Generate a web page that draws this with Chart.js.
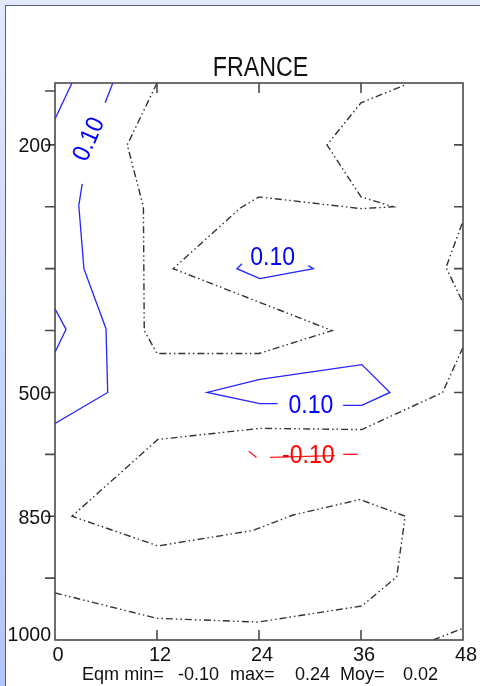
<!DOCTYPE html>
<html>
<head>
<meta charset="utf-8">
<script src="https://cdn.jsdelivr.net/npm/chart.js@4"></script>
<style>
  html, body { margin: 0; padding: 0; }
  body { width: 480px; height: 686px; overflow: hidden; position: relative;
         background: linear-gradient(to bottom, #e3e9f9, #b2c4f6); }
  .panel { position: absolute; left: 5px; top: 5px; right: 0; bottom: 0; background: #fff;
           border-left: 1px solid #5b6070; border-top: 1px solid #5b6070; }
  canvas { position: absolute; left: 0; top: 0; }
</style>
</head>
<body>
<div class="panel"></div>
<canvas id="chart" width="480" height="686"></canvas>
<script>
// axes: forecast hour on x, pressure level index on y (0 = 1000 hPa)
const xTicks = [0, 12, 24, 36, 48];
const yTickPos = [0, 1, 2, 3, 4, 5, 6, 7, 8, 8.87];
const yTickLabels = ['1000', '', '850', '', '500', '', '', '', '200', ''];

// zero contour (dash-dot)
const zeroA = [[12, 9], [8.5, 8], [10.4, 7], [10.5, 5], [12, 4.63], [24, 4.63], [32.6, 5], [13.9, 6],
  [21.8, 6.98], [24, 7.16], [36, 6.97], [39.8, 7], [36, 7.16], [32, 8], [36, 8.68], [41.4, 8.98]];
const zeroB = [[47.9, 6.73], [46, 6.02], [48, 5.45]];
const zeroC = [[0, 0.76], [12, 0.35], [23.9, 0.29], [36.1, 0.55], [40.2, 1.02], [41.2, 2], [35.9, 2.27],
  [28, 2.02], [23.3, 1.77], [12.1, 1.52], [2, 2], [12.1, 3.24], [24.1, 3.42], [36.1, 3.4], [45.6, 4], [48, 4.73]];
const zeroD = [[44.5, 0], [48, 0.19]];

// +0.10 contours (solid blue)
const posA = [[0, 8.42], [2, 9]];
const posB1 = [[6.8, 9], [5.9, 8.68]];
const posB2 = [[3.2, 7.37], [2.8, 7.02], [3.4, 6], [6, 5.03], [6.2, 4], [0, 3.5]];
const posC = [[0, 5.35], [1.3, 5.02], [0, 4.65]];
const posD = [[22, 6.08], [21.4, 6], [24.1, 5.84], [30.4, 6], [29.8, 6.05]];
const posE = [[33.9, 3.79], [36.1, 3.79], [39.4, 4], [36.1, 4.45], [24.1, 4.21], [17.9, 4], [24.1, 3.82], [26.2, 3.82]];

// -0.10 contour (dashed red)
const negA = [[22.8, 3.05], [23.7, 2.95]];
const negB = [[25.3, 2.95], [32.9, 2.98]];
const negC = [[33.9, 3.0], [35.6, 3.0]];

// contour labels: text, x, y, angle
const labelTexts = ['0.10', '0.10', '0.10', '-0.10'];
const labelX = [3.8, 25.6, 30.1, 29.8];
const labelY = [8.1, 6.2, 3.81, 3.0];
const labelAngle = [-66, 0, 0, 0];
const labelColor = ['#0000ff', '#0000ff', '#0000ff', '#ff0000'];

const statsText = ['Eqm min=', '-0.10', 'max=', '0.24', 'Moy=', '0.02'];
const statsLeft = [82, 178, 230, 295, 340, 403];

const pts = arr => arr.map(p => ({x: p[0], y: p[1]}));

function line(arr, kind) {
  const ds = {data: pts(arr), showLine: true, pointRadius: 0, fill: false, tension: 0};
  if (kind === 'zero') Object.assign(ds, {borderColor: '#333333', borderWidth: 1.4, borderDash: [7, 3, 1.5, 3, 1.5, 3]});
  if (kind === 'pos') Object.assign(ds, {borderColor: '#2424ff', borderWidth: 1.3});
  if (kind === 'neg') Object.assign(ds, {borderColor: '#ff1a1a', borderWidth: 1.3});
  return ds;
}

function text(ctx, s, px, py, size, align, color, sx, angle) {
  ctx.save();
  ctx.translate(px, py);
  if (angle) ctx.rotate(angle * Math.PI / 180);
  ctx.scale(sx, 1);
  ctx.font = size + 'px "Liberation Sans", Arial, sans-serif';
  ctx.fillStyle = color;
  ctx.textAlign = align;
  ctx.textBaseline = 'alphabetic';
  ctx.fillText(s, 0, 0);
  ctx.restore();
}

const frame = {
  id: 'frame',
  afterDraw(chart) {
    const {ctx, chartArea: a, scales: {x, y}} = chart;
    ctx.save();
    ctx.strokeStyle = '#4a4a4a';
    ctx.lineWidth = 1.6;
    ctx.strokeRect(a.left, a.top, a.right - a.left, a.bottom - a.top);
    ctx.beginPath();
    xTicks.slice(1, -1).forEach(v => {
      const px = x.getPixelForValue(v);
      ctx.moveTo(px, a.bottom); ctx.lineTo(px, a.bottom - 10);
      ctx.moveTo(px, a.top); ctx.lineTo(px, a.top + 10);
    });
    yTickPos.forEach((v, i) => {
      if (v === 0) return;
      const py = y.getPixelForValue(v);
      ctx.moveTo(a.left - 10, py); ctx.lineTo(a.left, py);
      if (i < yTickPos.length - 1) { ctx.moveTo(a.right, py); ctx.lineTo(a.right - 9, py); }
    });
    ctx.stroke();

    // tick labels
    yTickPos.forEach((v, i) => {
      if (!yTickLabels[i]) return;
      const cy = Math.min(y.getPixelForValue(v), a.bottom - 7);
      text(ctx, yTickLabels[i], a.left - 4, cy + 7.5, 21, 'right', '#111', 0.93);
    });
    xTicks.forEach(v => {
      text(ctx, String(v), x.getPixelForValue(v) + 3, 661, 21, 'center', '#111', 0.95);
    });

    // title and stats line
    text(ctx, 'FRANCE', 260.5, 76, 27, 'center', '#111', 0.86);
    statsText.forEach((s, i) => text(ctx, s, statsLeft[i], 680, 19, 'left', '#111', 0.95));

    // contour labels
    labelTexts.forEach((s, i) => {
      const px = x.getPixelForValue(labelX[i]);
      const py = y.getPixelForValue(labelY[i]);
      ctx.save();
      ctx.translate(px, py);
      ctx.rotate(labelAngle[i] * Math.PI / 180);
      text(ctx, s, 0, 9, 25, 'center', labelColor[i], 0.92);
      ctx.restore();
    });
    ctx.restore();
  }
};

new Chart(document.getElementById('chart'), {
  type: 'scatter',
  data: {
    datasets: [
      line(zeroA, 'zero'), line(zeroB, 'zero'), line(zeroC, 'zero'), line(zeroD, 'zero'),
      line(posA, 'pos'), line(posB1, 'pos'), line(posB2, 'pos'), line(posC, 'pos'),
      line(posD, 'pos'), line(posE, 'pos'),
      line(negA, 'neg'), line(negB, 'neg'), line(negC, 'neg')
    ]
  },
  options: {
    responsive: false,
    animation: false,
    layout: {padding: {left: 55, top: 83, right: 17, bottom: 46}},
    plugins: {legend: {display: false}, tooltip: {enabled: false}, title: {display: false}},
    scales: {
      x: {type: 'linear', min: 0, max: 48, display: false},
      y: {type: 'linear', min: 0, max: 9, display: false}
    }
  },
  plugins: [frame]
});
</script>
</body>
</html>
